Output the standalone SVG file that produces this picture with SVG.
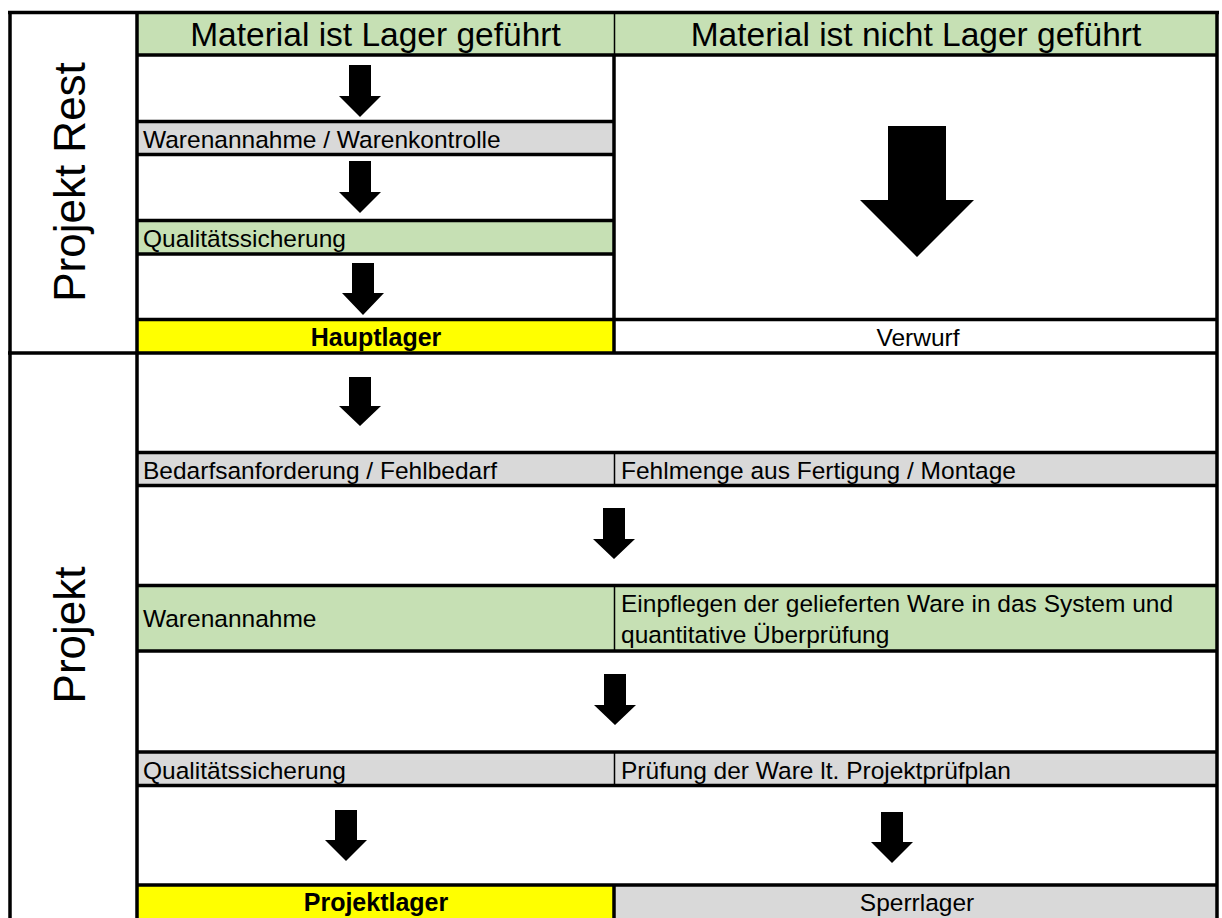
<svg xmlns="http://www.w3.org/2000/svg" width="1222" height="918" viewBox="0 0 1222 918">
<style>
.t{font-family:"Liberation Sans",Arial,sans-serif;font-size:24.5px;fill:#000}
.h{font-size:33.5px}
.b{font-weight:bold;font-size:25px}
.side{font-family:"Liberation Sans",Arial,sans-serif;font-size:44px;fill:#000}
.ln{stroke:#000;stroke-width:3.5;fill:none}
.thin{stroke:#000;stroke-width:1.5;fill:none}
.arr{fill:#000}
.green{fill:#C6E0B4}
.gray{fill:#D9D9D9}
.yellow{fill:#FFFF00}
</style>
<rect width="1222" height="918" fill="#fff"/>

<g id="side-projekt-rest">
<text class="side" transform="translate(85,182) rotate(-90)" text-anchor="middle">Projekt Rest</text>
</g>
<g id="side-projekt">
<text class="side" transform="translate(85,635) rotate(-90)" text-anchor="middle">Projekt</text>
</g>

<g id="header-lager">
<rect class="green" x="137" y="12.5" width="477" height="42.5"/>
<text class="t h" x="375.5" y="46" text-anchor="middle">Material ist Lager geführt</text>
</g>
<g id="header-nicht-lager">
<rect class="green" x="614" y="12.5" width="603" height="42.5"/>
<text class="t h" x="916" y="46" text-anchor="middle">Material ist nicht Lager geführt</text>
</g>

<g id="warenannahme-kontrolle">
<rect class="gray" x="137" y="121.5" width="477" height="33"/>
<text class="t" x="143" y="148">Warenannahme / Warenkontrolle</text>
</g>
<g id="qualitaet-rest">
<rect class="green" x="137" y="220.5" width="477" height="33.5"/>
<text class="t" x="143" y="247">Qualitätssicherung</text>
</g>
<g id="hauptlager">
<rect class="yellow" x="137" y="319.5" width="477" height="33.5"/>
<text class="t b" x="376" y="346" text-anchor="middle">Hauptlager</text>
</g>
<g id="verwurf">
<text class="t" x="918" y="346" text-anchor="middle">Verwurf</text>
</g>

<g id="bedarfsanforderung">
<rect class="gray" x="137" y="452.5" width="477" height="33"/>
<text class="t" x="143" y="479">Bedarfsanforderung / Fehlbedarf</text>
</g>
<g id="fehlmenge">
<rect class="gray" x="614" y="452.5" width="603" height="33"/>
<text class="t" x="621" y="479">Fehlmenge aus Fertigung / Montage</text>
</g>
<g id="warenannahme-projekt">
<rect class="green" x="137" y="585.5" width="477" height="65.5"/>
<text class="t" x="143" y="627">Warenannahme</text>
</g>
<g id="einpflegen">
<rect class="green" x="614" y="585.5" width="603" height="65.5"/>
<text class="t" x="621" y="612">Einpflegen der gelieferten Ware in das System und</text>
<text class="t" x="621" y="643">quantitative Überprüfung</text>
</g>
<g id="qualitaet-projekt">
<rect class="gray" x="137" y="752" width="477" height="33.5"/>
<text class="t" x="143" y="779">Qualitätssicherung</text>
</g>
<g id="pruefung">
<rect class="gray" x="614" y="752" width="603" height="33.5"/>
<text class="t" x="621" y="779">Prüfung der Ware lt. Projektprüfplan</text>
</g>
<g id="projektlager">
<rect class="yellow" x="137" y="885" width="477" height="33"/>
<text class="t b" x="376" y="911" text-anchor="middle">Projektlager</text>
</g>
<g id="sperrlager">
<rect class="gray" x="614" y="885" width="603" height="33"/>
<text class="t" x="917" y="911" text-anchor="middle">Sperrlager</text>
</g>

<g id="grid">
<path class="ln" d="M8,12.5H1219 M137,55H1217 M137,121.5H614 M137,154.5H614 M137,220.5H614 M137,254H614 M137,319.5H1217 M8,353H1217 M137,452.5H1217 M137,485.5H1217 M137,585.5H1217 M137,651H1217 M137,752H1217 M137,785.5H1217 M137,885H1217"/>
<path class="ln" d="M10,11V918 M137,11V918 M1217,11V918 M614,55V353 M614,885V918"/>
<path class="thin" d="M614.5,12.5V55 M614.5,452.5V485.5 M614.5,585.5V651 M614.5,752V785.5"/>
</g>

<g id="connectors">
<path class="arr" d="M349,65H371V96H381L360,117L339,96H349Z"/>
<path class="arr" d="M349,161H371V192H381L360,213L339,192H349Z"/>
<path class="arr" d="M352,263H374V293H384L363,315L342,293H352Z"/>
<path class="arr" d="M888,126H946V200H974L917,257L860,200H888Z"/>
<path class="arr" d="M349,377H371V406H381L360,426L339,406H349Z"/>
<path class="arr" d="M603,508H625V539H635L614,559L593,539H603Z"/>
<path class="arr" d="M604,674H626V705H636L615,725L594,705H604Z"/>
<path class="arr" d="M335,810H357V840H367L346,861L325,840H335Z"/>
<path class="arr" d="M881,812H903V842H913L892,863L871,842H881Z"/>
</g>
</svg>
